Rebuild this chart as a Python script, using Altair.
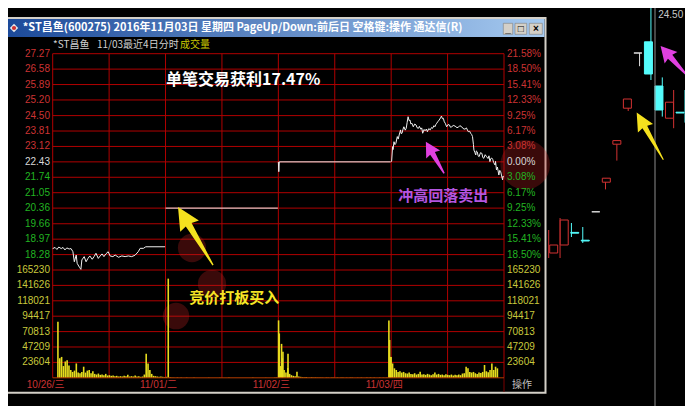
import altair as alt
import pandas as pd

# ------------------------------------------------------------------ data
day_labels = ["10/26/三", "11/01/二", "11/02/三", "11/03/四"]
day_start = [0, 240, 480, 720]
grid_minutes = [0, 120, 240, 360, 480, 600, 720, 840, 960]

prev_close = 22.43
price_ticks = [27.27, 26.58, 25.89, 25.20, 24.50, 23.81, 23.12, 22.43,
               21.74, 21.05, 20.36, 19.66, 18.97, 18.28]
pct_labels = ["21.58%", "18.50%", "15.41%", "12.33%", "9.25%", "6.17%", "3.08%",
              "0.00%", "3.08%", "6.17%", "9.25%", "12.33%", "15.41%", "18.50%"]
vol_ticks = [165230, 141626, 118021, 94417, 70813, 47209, 23604]

# minute-by-minute price, one list per day
d1_min = [0, 5, 9, 13, 18, 22, 26, 30, 35, 39, 43, 46, 50, 52, 57, 60, 62, 67, 71, 75,
          79, 84, 88, 92, 97, 101, 105, 109, 113, 118, 122, 128, 133, 140, 147, 154, 161, 168, 175, 182,
          186, 193, 198, 207, 239]
d1_price = [18.55, 18.60, 18.51, 18.62, 18.55, 18.60, 18.49, 18.58, 18.53, 18.55,
            18.41, 17.96, 18.26, 17.89, 17.71, 17.62, 18.04, 18.19, 17.96, 18.11,
            18.22, 18.07, 18.19, 18.34, 18.11, 18.22, 18.31, 18.19, 18.31, 18.41,
            18.22, 18.19, 18.26, 18.16, 18.22, 18.19, 18.22, 18.19, 18.25, 18.41,
            18.56, 18.56, 18.63, 18.63, 18.63]
d2_min = [240, 479]
d2_price = [20.36, 20.36]
d3_min = [480, 481, 482, 719]
d3_price = [22.43, 21.99, 22.43, 22.43]
d4_min = [720, 721, 723, 724, 726, 728, 730, 733, 735, 737,
          740, 741, 743, 745, 747, 750, 752, 754, 756, 758,
          760, 762, 764, 767, 770, 773, 775, 778, 780, 783,
          785, 787, 790, 792, 795, 797, 800, 803, 806, 808,
          811, 813, 815, 817, 820, 822, 825, 827, 829, 831,
          833, 835, 838, 841, 844, 846, 849, 852, 856, 860,
          863, 866, 870, 873, 877, 880, 884, 887, 889, 891,
          893, 895, 896, 898, 900, 901, 903, 905, 907, 910,
          913, 915, 917, 920, 923, 926, 928, 930, 932, 934,
          936, 938, 941, 942, 944, 946, 949, 951, 953, 955,
          957, 958, 959]
d4_price = [22.43, 22.46, 23.11, 22.98, 23.33, 23.20, 23.26, 23.56, 23.45, 23.63,
            23.86, 23.70, 23.71, 23.88, 24.00, 23.85, 23.93, 24.20, 24.45, 24.28,
            24.30, 24.12, 24.16, 24.00, 24.12, 24.08, 23.96, 23.93, 24.02, 23.89,
            23.95, 23.71, 23.88, 23.82, 23.90, 23.78, 23.92, 23.86, 23.97, 23.93,
            24.05, 24.00, 24.10, 24.16, 24.25, 24.30, 24.40, 24.48, 24.36, 24.38,
            24.22, 24.16, 24.00, 24.10, 24.08, 23.98, 24.00, 24.06, 24.03, 23.96,
            23.98, 24.05, 24.00, 23.92, 23.89, 23.95, 23.78, 23.80, 23.71, 23.66,
            23.56, 23.20, 22.96, 22.85, 22.74, 22.92, 22.88, 22.70, 22.66, 22.84,
            22.81, 22.62, 22.59, 22.75, 22.66, 22.58, 22.70, 22.44, 22.58, 22.60,
            22.54, 22.40, 22.29, 22.45, 22.07, 22.20, 21.84, 22.05, 21.99, 21.80,
            21.62, 21.80, 21.77]

# volume, one value per 4-minute slot of each day, plus single-minute spikes
vol_step = 4
vol_d1 = [86000, 30000, 32000, 18000, 25000, 27000, 19000, 12000, 9000, 11000,
          22000, 8000, 7000, 9000, 17000, 8000, 11000, 12000, 7000, 10000,
          6000, 5000, 6500, 4500, 5000, 4000, 6000, 3500, 4000, 3000,
          3500, 2500, 3000, 2000, 2500, 2000, 3000, 2500, 4500, 2000,
          2500, 2000, 3500, 2000, 2500, 1500, 2000, 5000, 37000, 22000,
          12000, 6000, 3000, 2500, 2000, 1500, 2000, 1500, 1000, 1500]
vol_d2 = [152000, 900, 400, 300, 0, 500, 0, 300, 0, 0,
          400, 0, 0, 0, 300, 0, 0, 0, 0, 200,
          0, 0, 300, 0, 0, 0, 0, 0, 200, 0,
          0, 0, 0, 300, 0, 0, 0, 0, 0, 0,
          200, 0, 0, 0, 0, 0, 300, 0, 0, 0,
          0, 0, 0, 200, 0, 0, 0, 0, 300, 500]
vol_d3 = [88000, 18000, 30000, 12000, 8000, 15000, 6000, 4000, 3000, 2500,
          9300, 2000, 1500, 1000, 800, 1200, 600, 500, 800, 400,
          600, 300, 500, 400, 300, 0, 400, 300, 0, 500,
          300, 0, 400, 0, 300, 500, 0, 300, 0, 400,
          300, 0, 0, 300, 0, 400, 0, 0, 300, 0,
          500, 0, 300, 0, 0, 400, 0, 300, 0, 600]
vol_d4 = [88000, 32000, 22000, 14500, 12000, 9000, 10000, 8000, 9000, 7000,
          6500, 8000, 6000, 5500, 7000, 5000, 6000, 9300, 5000, 5500,
          4500, 6000, 5000, 4000, 5500, 8000, 5000, 6000, 4500, 5000,
          4000, 5500, 4500, 4000, 5000, 3500, 4500, 4000, 5000, 4000,
          6500, 7000, 17000, 14500, 9000, 8000, 9000, 7000, 6000, 8000,
          7500, 9000, 19600, 10000, 8500, 12000, 22000, 12000, 17000, 14500]
spike_min = [482, 487, 490, 501, 722, 725]
spike_vol = [68000, 52000, 40000, 37000, 58000, 32000]

# daily candles in the background window (right side of the screen)
candle_idx = [0, 1, 2, 3, 4, 5, 6, 7, 8, 9, 10, 11, 12]
candle_open = [17.43, 17.63, 17.945, 17.75, 18.46, 19.20, 20.15, 21.05, 22.43, 22.71, 21.605, 20.80, 20.95]
candle_close = [17.63, 18.255, 17.925, 17.73, 18.46, 19.30, 20.24, 21.28, 22.43, 21.905, 21.005, 21.20, 20.93]
candle_high = [18.005, 18.305, 18.18, 18.08, 18.46, 19.30, 20.24, 21.28, 22.43, 24.50, 21.82, 21.505, 21.505]
candle_low = [17.305, 17.305, 17.83, 17.68, 18.46, 19.02, 19.74, 20.98, 22.10, 21.755, 20.84, 20.55, 20.69]
cursor_candle = 9.36
high_label = "24.50"

# ------------------------------------------------------------------ tables
price_df = pd.DataFrame({
    "m": d1_min + d2_min + d3_min + d4_min,
    "p": d1_price + d2_price + d3_price + d4_price,
    "day": ["d1"] * len(d1_min) + ["d2"] * len(d2_min) + ["d3"] * len(d3_min) + ["d4"] * len(d4_min),
})
vol_rows = []
for start, vols in zip(day_start, [vol_d1, vol_d2, vol_d3, vol_d4]):
    for i, v in enumerate(vols):
        vol_rows.append({"m": start + i * vol_step + 0.5, "v": v})
for m, v in zip(spike_min, spike_vol):
    vol_rows.append({"m": m, "v": v})
vol_df = pd.DataFrame(vol_rows)

tick_df = pd.DataFrame({
    "p": price_ticks,
    "lbl": [f"{p:.2f}" for p in price_ticks],
    "pct": pct_labels,
    "grp": ["up" if p > prev_close else ("flat" if p == prev_close else "down") for p in price_ticks],
})
vtick_df = pd.DataFrame({"v": vol_ticks, "lbl": [str(v) for v in vol_ticks]})
day_df = pd.DataFrame({"m": day_start, "lbl": day_labels})
vline_df = pd.DataFrame({"m": grid_minutes})
hgrid_df = pd.DataFrame({"p": price_ticks, "a": 0, "b": 960})
vhgrid_df = pd.DataFrame({"v": vol_ticks, "a": 0, "b": 960})

candle_df = pd.DataFrame({"i": candle_idx, "o": candle_open, "c": candle_close,
                          "h": candle_high, "l": candle_low})
candle_df["kind"] = ["up" if c > o else ("down" if c < o else "flat")
                     for o, c in zip(candle_open, candle_close)]
one = pd.DataFrame({"k": [0]})

# ------------------------------------------------------------------ styling
W, H = 677, 398
XS = alt.Scale(domain=[0, 960], range=[44.7, 496], nice=False, zero=False)
YP = alt.Scale(domain=[18.28, 27.27], range=[246.6, 45.7], nice=False, zero=False)
YV = alt.Scale(domain=[0, 165230], range=[369.8, 262], nice=False, zero=False)
XM = alt.Scale(domain=[0, 12], range=[540.7, 677], nice=False, zero=False)
YM = alt.Scale(domain=[17, 26], range=[262.2, -97.8], nice=False, zero=False)

NUM = "Liberation Sans, Noto Sans CJK SC"
CJK = "Noto Sans CJK SC"
GRID = "#b00000"
RED_T = "#cc3333"
GREEN_T = "#22b422"
WHITE_T = "#d8d8d8"
YEL_T = "#c8c83c"
C_UP, C_DOWN, C_FLAT = "#d23232", "#54fcfc", "#e0e0e0"
kind_dom = ["up", "down", "flat"]

ARROW_LONG = "M0,-1 L0.32,-0.34 L0.1,-0.39 L0.02,1 L-0.02,1 L-0.1,-0.39 L-0.32,-0.34 Z"
ARROW_SHORT = "M0,-1 L0.44,-0.2 L0.15,-0.27 L0.04,1 L-0.04,1 L-0.15,-0.27 L-0.44,-0.2 Z"

layers = []

# --- background candles (other window)
layers.append(alt.Chart(candle_df).mark_rule(strokeWidth=1).encode(
    x=alt.X("i:Q", scale=XM, axis=None),
    y=alt.Y("l:Q", scale=YM, axis=None), y2="h:Q",
    color=alt.Color("kind:N", scale=alt.Scale(domain=kind_dom, range=[C_UP, C_DOWN, C_FLAT]), legend=None)))
layers.append(alt.Chart(candle_df).mark_bar(width=8, strokeWidth=1).encode(
    x=alt.X("i:Q", scale=XM, axis=None),
    y=alt.Y("o:Q", scale=YM, axis=None), y2="c:Q",
    fill=alt.Fill("kind:N", scale=alt.Scale(domain=kind_dom, range=["#000000", C_DOWN, C_FLAT]), legend=None),
    stroke=alt.Stroke("kind:N", scale=alt.Scale(domain=kind_dom, range=[C_UP, C_DOWN, C_FLAT]), legend=None)))
layers.append(alt.Chart(pd.DataFrame({"c": [cursor_candle]})).mark_rule(color="#8c8c8c", strokeWidth=1).encode(
    x=alt.X("c:Q", scale=XM, axis=None), y=alt.value(-10), y2=alt.value(H + 10)))
layers.append(alt.Chart(pd.DataFrame({"c": [cursor_candle + 0.28], "t": [high_label]})).mark_text(
    align="left", baseline="middle", font=NUM, fontSize=10, color="#c8c8c8").encode(
    x=alt.X("c:Q", scale=XM, axis=None), y=alt.value(6.5), text="t:N"))

# --- window frame and title bar
layers.append(alt.Chart(one).mark_rect(fill="#000000", stroke="#d4d0c8", strokeWidth=2).encode(
    x=alt.value(-1), x2=alt.value(537.5), y=alt.value(10), y2=alt.value(384.7)))
layers.append(alt.Chart(one).mark_rect(
    fill=alt.LinearGradient(gradient="linear", x1=0, x2=1, y1=0, y2=0,
                            stops=[alt.GradientStop(color="#1c4a9a", offset=0),
                                   alt.GradientStop(color="#a6caf0", offset=1)])).encode(
    x=alt.value(0), x2=alt.value(536.5), y=alt.value(11), y2=alt.value(29)))
layers.append(alt.Chart(one).mark_point(shape="diamond", filled=True, size=70, color="#e8e8e8", opacity=1).encode(
    x=alt.value(6), y=alt.value(20)))
layers.append(alt.Chart(one).mark_point(shape="circle", filled=True, size=18, color="#d03030", opacity=1).encode(
    x=alt.value(6), y=alt.value(20)))
layers.append(alt.Chart(one).mark_text(
    text="*ST昌鱼(600275) 2016年11月03日 星期四 PageUp/Down:前后日 空格键:操作 通达信(R)",
    align="left", baseline="middle", font=CJK, fontSize=11, fontWeight="bold", color="#ffffff").encode(
    x=alt.value(14.7), y=alt.value(20.3)))
for bx0, bx1, sym in [(495.3, 504.7, "_"), (507, 518.7, "□"), (521.3, 534.3, "×")]:
    layers.append(alt.Chart(one).mark_rect(fill="#d4d0c8", stroke="#808080", strokeWidth=0.6).encode(
        x=alt.value(bx0), x2=alt.value(bx1), y=alt.value(15.3), y2=alt.value(26.3)))
    layers.append(alt.Chart(one).mark_text(text=sym, align="center", baseline="middle", font=NUM,
                                           fontSize=10, fontWeight="bold", color="#000000").encode(
        x=alt.value((bx0 + bx1) / 2), y=alt.value(20.5)))

# --- header line inside the window
layers.append(alt.Chart(one).mark_text(text="*ST昌鱼", align="left", baseline="middle", font=CJK,
                                       fontSize=10, color="#d0d0d0").encode(x=alt.value(45), y=alt.value(37)))
layers.append(alt.Chart(one).mark_text(text="11/03最近4日分时", align="left", baseline="middle", font=CJK,
                                       fontSize=10, color="#d0d0d0").encode(x=alt.value(89), y=alt.value(37)))
layers.append(alt.Chart(one).mark_text(text="成交量", align="left", baseline="middle", font=CJK,
                                       fontSize=10, color="#c8c800").encode(x=alt.value(172), y=alt.value(37)))

# --- grid
layers.append(alt.Chart(hgrid_df).mark_rule(color=GRID, strokeWidth=1).encode(
    y=alt.Y("p:Q", scale=YP, axis=None), x=alt.X("a:Q", scale=XS, axis=None), x2="b:Q"))
layers.append(alt.Chart(vhgrid_df).mark_rule(color=GRID, strokeWidth=1).encode(
    y=alt.Y("v:Q", scale=YV, axis=None), x=alt.X("a:Q", scale=XS, axis=None), x2="b:Q"))
layers.append(alt.Chart(vline_df).mark_rule(color=GRID, strokeWidth=1).encode(
    x=alt.X("m:Q", scale=XS, axis=None), y=alt.value(45.7), y2=alt.value(369.8)))
layers.append(alt.Chart(pd.DataFrame({"m": [960]})).mark_rule(color="#7a0000", strokeWidth=1).encode(
    x=alt.X("m:Q", scale=XS, axis=None), y=alt.value(369.8), y2=alt.value(384)))

# --- faint red watermark blobs (placed in data coordinates)
wm_df = pd.DataFrame({"m": [296.3, 338.9, 262.3, 1005.0], "p": [18.575, 16.96, 15.53, 22.30],
                      "s": [800, 800, 700, 2460]})
layers.append(alt.Chart(wm_df).mark_point(shape="circle", filled=True, color="#c02020", opacity=0.3,
                                          strokeWidth=0).encode(
    x=alt.X("m:Q", scale=XS, axis=None), y=alt.Y("p:Q", scale=YP, axis=None),
    size=alt.Size("s:Q", scale=None, legend=None)))

# --- axis labels
layers.append(alt.Chart(tick_df).mark_text(align="right", baseline="middle", font=NUM, fontSize=10).encode(
    x=alt.value(42), y=alt.Y("p:Q", scale=YP, axis=None), text="lbl:N",
    color=alt.Color("grp:N", scale=alt.Scale(domain=kind_dom, range=[RED_T, GREEN_T, WHITE_T]), legend=None)))
layers.append(alt.Chart(tick_df).mark_text(align="left", baseline="middle", font=NUM, fontSize=10).encode(
    x=alt.value(499), y=alt.Y("p:Q", scale=YP, axis=None), text="pct:N",
    color=alt.Color("grp:N", scale=alt.Scale(domain=kind_dom, range=[RED_T, GREEN_T, WHITE_T]), legend=None)))
layers.append(alt.Chart(vtick_df).mark_text(align="right", baseline="middle", font=NUM, fontSize=10,
                                            color=YEL_T).encode(
    x=alt.value(42), y=alt.Y("v:Q", scale=YV, axis=None), text="lbl:N"))
layers.append(alt.Chart(vtick_df).mark_text(align="left", baseline="middle", font=NUM, fontSize=10,
                                            color=YEL_T).encode(
    x=alt.value(499), y=alt.Y("v:Q", scale=YV, axis=None), text="lbl:N"))
layers.append(alt.Chart(day_df).mark_text(align="center", baseline="middle", font=NUM, fontSize=10,
                                          color=RED_T, dx=-7).encode(
    x=alt.X("m:Q", scale=XS, axis=None), y=alt.value(377), text="lbl:N"))
layers.append(alt.Chart(one).mark_text(text="操作", align="center", baseline="middle", font=CJK,
                                       fontSize=10, color="#c0c0c0").encode(x=alt.value(514), y=alt.value(377)))

# --- volume bars
layers.append(alt.Chart(vol_df).mark_bar(width=1.6, color="#e6dc1e", orient="vertical").encode(
    x=alt.X("m:Q", scale=XS, axis=None), y=alt.Y("v:Q", scale=YV, axis=None)))
layers.append(alt.Chart(pd.DataFrame({"v": [0], "a": [0], "b": [960]})).mark_rule(color="#b43c00", strokeWidth=1).encode(
    y=alt.Y("v:Q", scale=YV, axis=None), x=alt.X("a:Q", scale=XS, axis=None), x2="b:Q"))

# --- price line
layers.append(alt.Chart(price_df).mark_line(color="#f0f0f0", strokeWidth=1).encode(
    x=alt.X("m:Q", scale=XS, axis=None), y=alt.Y("p:Q", scale=YP, axis=None), detail="day:N"))

# --- annotations (placed in data coordinates)
def note(m, p, txt, color, size):
    return alt.Chart(pd.DataFrame({"m": [m], "p": [p]})).mark_text(
        text=txt, align="left", baseline="middle", font=CJK, fontSize=size, fontWeight="bold", color=color).encode(
        x=alt.X("m:Q", scale=XS, axis=None), y=alt.Y("p:Q", scale=YP, axis=None))

def arrow(m, p, xs, ys, path, size, angle, color):
    return alt.Chart(pd.DataFrame({"m": [m], "p": [p]})).mark_point(
        shape=path, filled=True, size=size, angle=angle, color=color, opacity=1, strokeWidth=0).encode(
        x=alt.X("m:Q", scale=xs, axis=None), y=alt.Y("p:Q", scale=ys, axis=None))

layers.append(note(241, 26.09, "单笔交易获利17.47%", "#ffffff", 16))
layers.append(note(290.6, 16.36, "竞价打板买入", "#f5e625", 15))
layers.append(note(735, 20.92, "冲高回落卖出", "#b455e0", 15))
layers.append(arrow(303.8, 19.11, XS, YP, ARROW_LONG, 4624, 329, "#f5e11e"))
layers.append(arrow(813.2, 22.62, XS, YP, ARROW_SHORT, 1332, 330, "#e040e0"))
layers.append(arrow(8.92, 20.35, XM, YM, ARROW_LONG, 2948, 330.6, "#f5e11e"))
layers.append(arrow(11.0, 22.24, XM, YM, ARROW_SHORT, 1521, 318, "#e040e0"))

chart = alt.layer(*layers).resolve_scale(
    x="independent", y="independent", color="independent", fill="independent", stroke="independent",
    size="independent"
).properties(
    width=W, height=H, autosize=alt.AutoSizeParams(type="none"), padding=0, background="#000000"
).configure_view(stroke=None)

chart.save("out.html", embed_options={"renderer": "svg", "actions": False})
